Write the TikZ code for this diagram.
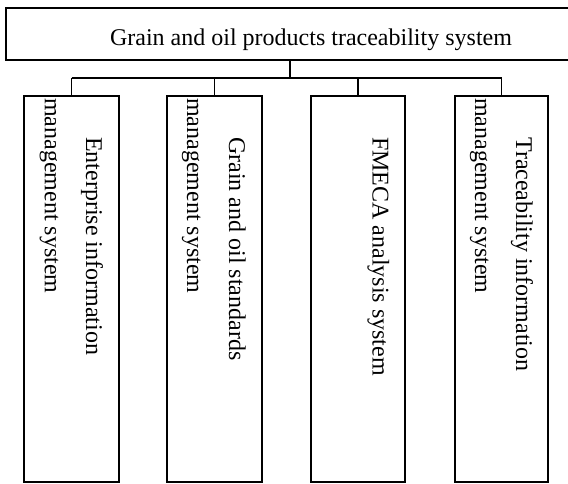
\documentclass[tikz,border=0pt]{standalone}
\usepackage{fontspec}
\setmainfont{Liberation Serif}
\begin{document}
\begin{tikzpicture}[x=1pt,y=-1pt,
  box/.style={draw, line width=1.3pt, inner sep=0pt},
  link/.style={line width=1.3pt},
  ttl/.style={font=\fontsize{24}{24}\selectfont, inner sep=0pt, anchor=base},
  lbl/.style={font=\fontsize{24}{24}\selectfont, inner sep=0pt, rotate=-90, anchor=base west}]
\useasboundingbox (0,0) rectangle (568,484);
% top box (its right edge lies beyond the picture)
\node[box, minimum width=608pt, minimum height=52pt] (top) at (310,34) {};
\node[ttl] (title) at (311,46) {Grain and oil products traceability system};
% child boxes
\node[box, minimum width=95pt, minimum height=386pt] (b1) at (71.5,289) {};
\node[box, minimum width=95pt, minimum height=386pt] (b2) at (214.5,289) {};
\node[box, minimum width=94pt, minimum height=386pt] (b3) at (358,289) {};
\node[box, minimum width=93pt, minimum height=386pt] (b4) at (501.5,289) {};
% labels
\node[lbl] (l1a) at (86,137) {Enterprise information};
\node[lbl] (l1b) at (45,98) {management system};
\node[lbl] (l2a) at (229,137) {Grain and oil standards};
\node[lbl] (l2b) at (187,98) {management system};
\node[lbl] (l3a) at (372.5,137) {FMECA analysis system};
\node[lbl] (l4a) at (516,137) {Traceability information};
\node[lbl] (l4b) at (475,98) {management system};
% connectors
\coordinate (j) at (290,78);
\draw[link] (top.south -| j) -- (j);
\draw[link] (b1.north |- j) -- (b4.north |- j);
\foreach \b in {b1,b2,b3,b4} \draw[link] (\b.north |- j) -- (\b.north);
\end{tikzpicture}
\end{document}
